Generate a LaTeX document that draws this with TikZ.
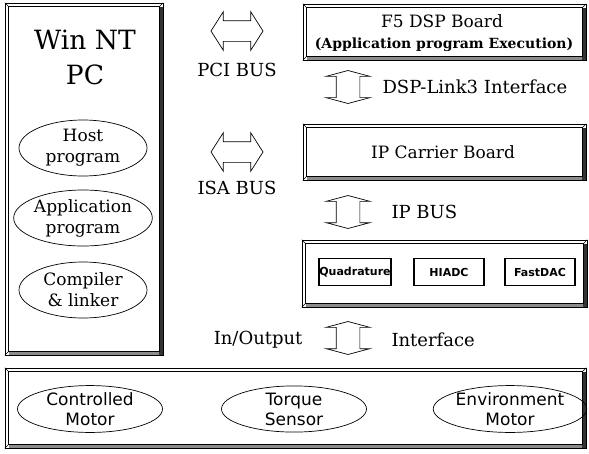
\documentclass[tikz,border=0pt]{standalone}
\usepackage{fontspec}
\setmainfont{DejaVu Serif}
\newfontfamily\motorfont{DejaVu Sans}
\usetikzlibrary{shapes.geometric,shapes.arrows}

\tikzset{
  panel/.style={draw, line width=0.6pt, inner sep=0pt},
  prog/.style={draw, ellipse, line width=0.7pt, minimum width=128pt, minimum height=56pt,
    inner sep=0pt, align=center, font=\fontsize{17}{21}\selectfont},
  motor/.style={draw, ellipse, line width=0.7pt, minimum width=145pt, minimum height=46pt,
    inner sep=0pt, align=center, font=\motorfont\fontsize{17}{20}\selectfont},
  ipmod/.style={draw, line width=1.8pt, minimum width=70pt, minimum height=27pt,
    inner sep=0pt, font=\motorfont\bfseries\fontsize{11}{13}\selectfont},
  busarrow/.style={draw, double arrow, line width=0.7pt, inner xsep=0pt, inner ysep=10pt,
    minimum height=52pt, double arrow head extend=9pt, double arrow tip angle=115},
  linkarrow/.style={draw, double arrow, rotate=90, line width=0.7pt, inner xsep=0pt,
    inner ysep=11.5pt, minimum height=33pt, double arrow head extend=10pt,
    double arrow tip angle=150},
  lbl/.style={font=\fontsize{18}{20}\selectfont}
}

\begin{document}
\begin{tikzpicture}[x=1pt,y=-1pt]
    \useasboundingbox (0,0) rectangle (589,453);

    % boxes
    \node[panel, minimum width=158pt, minimum height=352pt] (pc) at (84,179) {};
    \node[panel, minimum width=283pt, minimum height=56pt] (dsp) at (444.5,32) {};
    \node[panel, minimum width=283pt, minimum height=56pt] (carrier) at (444.5,152) {};
    \node[panel, minimum width=285pt, minimum height=67pt] (iobox) at (444.5,273.5) {};
    \node[panel, minimum width=581pt, minimum height=80pt] (plant) at (295.5,408) {};

    % bevel
    \foreach \b in {pc,dsp,carrier,iobox,plant} {
        \fill[black!80] ([shift={(-4,4)}]\b.north east) rectangle (\b.south east);
        \fill[black!45] ([shift={(4,-4)}]\b.south west) rectangle ([shift={(-4,0)}]\b.south east);
        \draw[line width=0.5pt] ([shift={(4,4)}]\b.north west) rectangle ([shift={(-4,-4)}]\b.south east);
        \draw[line width=0.5pt] (\b.north west) -- ([shift={(4,4)}]\b.north west);
        \draw[line width=0.5pt] (\b.south west) -- ([shift={(4,-4)}]\b.south west);
        \draw[line width=0.5pt] (\b.north east) -- ([shift={(-4,4)}]\b.north east);
    }

    % PC side
    \node[font=\fontsize{26.5}{30}\selectfont] (pctitle) at (85,40) {Win NT};
    \node[font=\fontsize{26.5}{30}\selectfont] (pcname) at (85,75) {PC};
    \node[prog] (host) at (83,148) {Host\\program};
    \node[prog] (app) at (83,218) {Application\\program};
    \node[prog] (comp) at (83,290) {Compiler\\\&\ linker};

    % buses
    \node[busarrow] (pcibus) at (237,31) {};
    \node[lbl] (pcilbl) at (237,70) {PCI BUS};
    \node[busarrow] (isabus) at (237,152) {};
    \node[lbl] (isalbl) at (237,188) {ISA BUS};

    % DSP board
    \node[font=\fontsize{17}{19}\selectfont] (dsptitle) at (442,21) {F5 DSP Board};
    \node[font=\bfseries\fontsize{14}{16}\selectfont] (dspnote) at (444,45) {(Application program Execution)};
    \node[linkarrow] (dsplink) at (348,87) {};
    \node[lbl, anchor=west] (linklbl) at (379,87) {DSP-Link3 Interface};

    % carrier
    \node[font=\fontsize{17}{19}\selectfont] (carriertitle) at (443,152) {IP Carrier Board};
    \node[linkarrow] (ipbus) at (348,212) {};
    \node[lbl, anchor=west] (ipbuslbl) at (388,212) {IP BUS};

    % IP modules
    \node[ipmod] (quad) at (355,272) {Quadrature};
    \node[ipmod] (hiadc) at (449,272) {HIADC};
    \node[ipmod] (fastdac) at (540,272) {FastDAC};

    % in/out
    \node[linkarrow] (iolink) at (348,338) {};
    \node[lbl, anchor=east] (inlbl) at (306,340) {In/Output};
    \node[lbl, anchor=west] (iflbl) at (388,340) {Interface};

    % plant
    \node[motor] (cmotor) at (90,409) {Controlled\\Motor};
    \node[motor] (tsensor) at (294,409) {Torque\\Sensor};
    \node[motor] (emotor) at (510,409) {Environment\\Motor};
\end{tikzpicture}
\end{document}
